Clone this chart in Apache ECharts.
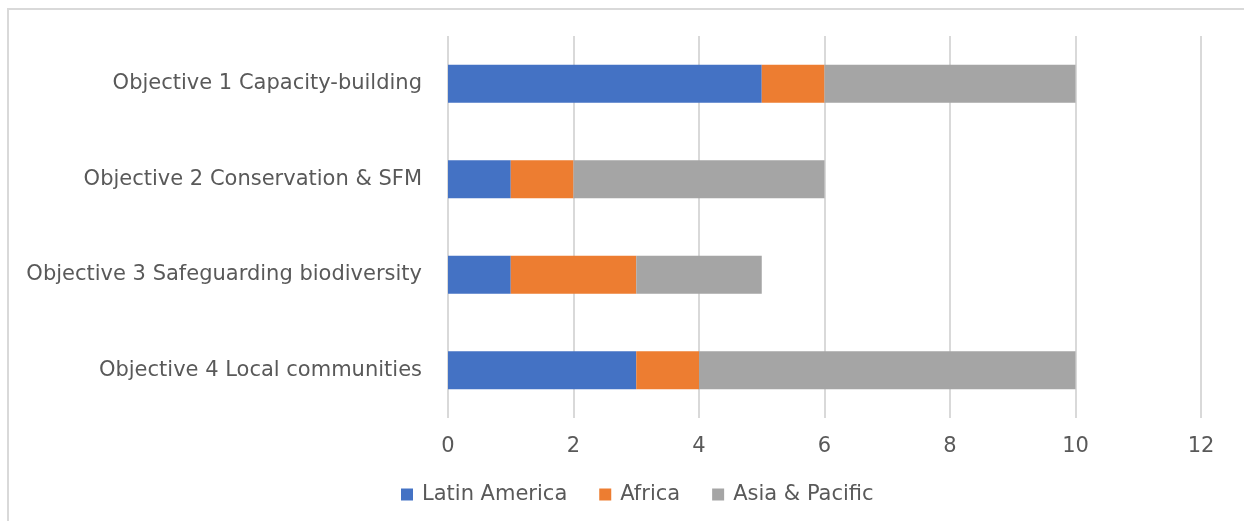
<!DOCTYPE html>
<html><head><meta charset="utf-8">
<script src="https://cdn.jsdelivr.net/npm/echarts@6/dist/echarts.min.js"></script>
<style>html,body{margin:0;padding:0;background:#fff}#c{width:1244px;height:521px}</style>
</head><body><div id="c"></div>
<script>
const categories = ['Objective 1 Capacity-building','Objective 2 Conservation & SFM','Objective 3 Safeguarding biodiversity','Objective 4 Local communities'];
const latinAmerica = [5, 1, 1, 3];
const africa = [1, 1, 2, 1];
const asiaPacific = [4, 4, 2, 6];
const xTicks = [0, 2, 4, 6, 8, 10, 12];
const font = '"DejaVu Sans", sans-serif';
const chart = echarts.init(document.getElementById('c'));
const mk = (name, data, color) => ({name, type:'bar', stack:'t', data, barWidth:38, itemStyle:{color}, emphasis:{disabled:true}});
chart.setOption({
  animation:false,
  graphic:[{type:'rect', shape:{x:8,y:9,width:1400,height:700}, style:{fill:'none', stroke:'#D9D9D9', lineWidth:2}, silent:true}],
  grid:{left:448, right:43, top:36, bottom:103, containLabel:false},
  xAxis:{type:'value', min:0, max:12, interval:2,
    axisLine:{show:false}, axisTick:{show:false},
    splitLine:{lineStyle:{color:'#D9D9D9', width:2}},
    axisLabel:{color:'#595959', fontSize:21, fontFamily:font, margin:18, formatter:v=>xTicks.includes(v)?String(v):''}},
  yAxis:{type:'category', data:categories, inverse:true,
    axisLine:{show:false}, axisTick:{show:false},
    axisLabel:{color:'#595959', fontSize:21, fontFamily:font, margin:26}},
  legend:{bottom:11, left:396, itemWidth:12, itemHeight:12, itemGap:32, icon:'rect',
    textStyle:{color:'#595959', fontSize:21, fontFamily:font, padding:[0,0,0,4]},
    data:['Latin America','Africa','Asia & Pacific']},
  series:[mk('Latin America', latinAmerica, '#4472C4'), mk('Africa', africa, '#ED7D31'), mk('Asia & Pacific', asiaPacific, '#A5A5A5')]
});
</script></body></html>
